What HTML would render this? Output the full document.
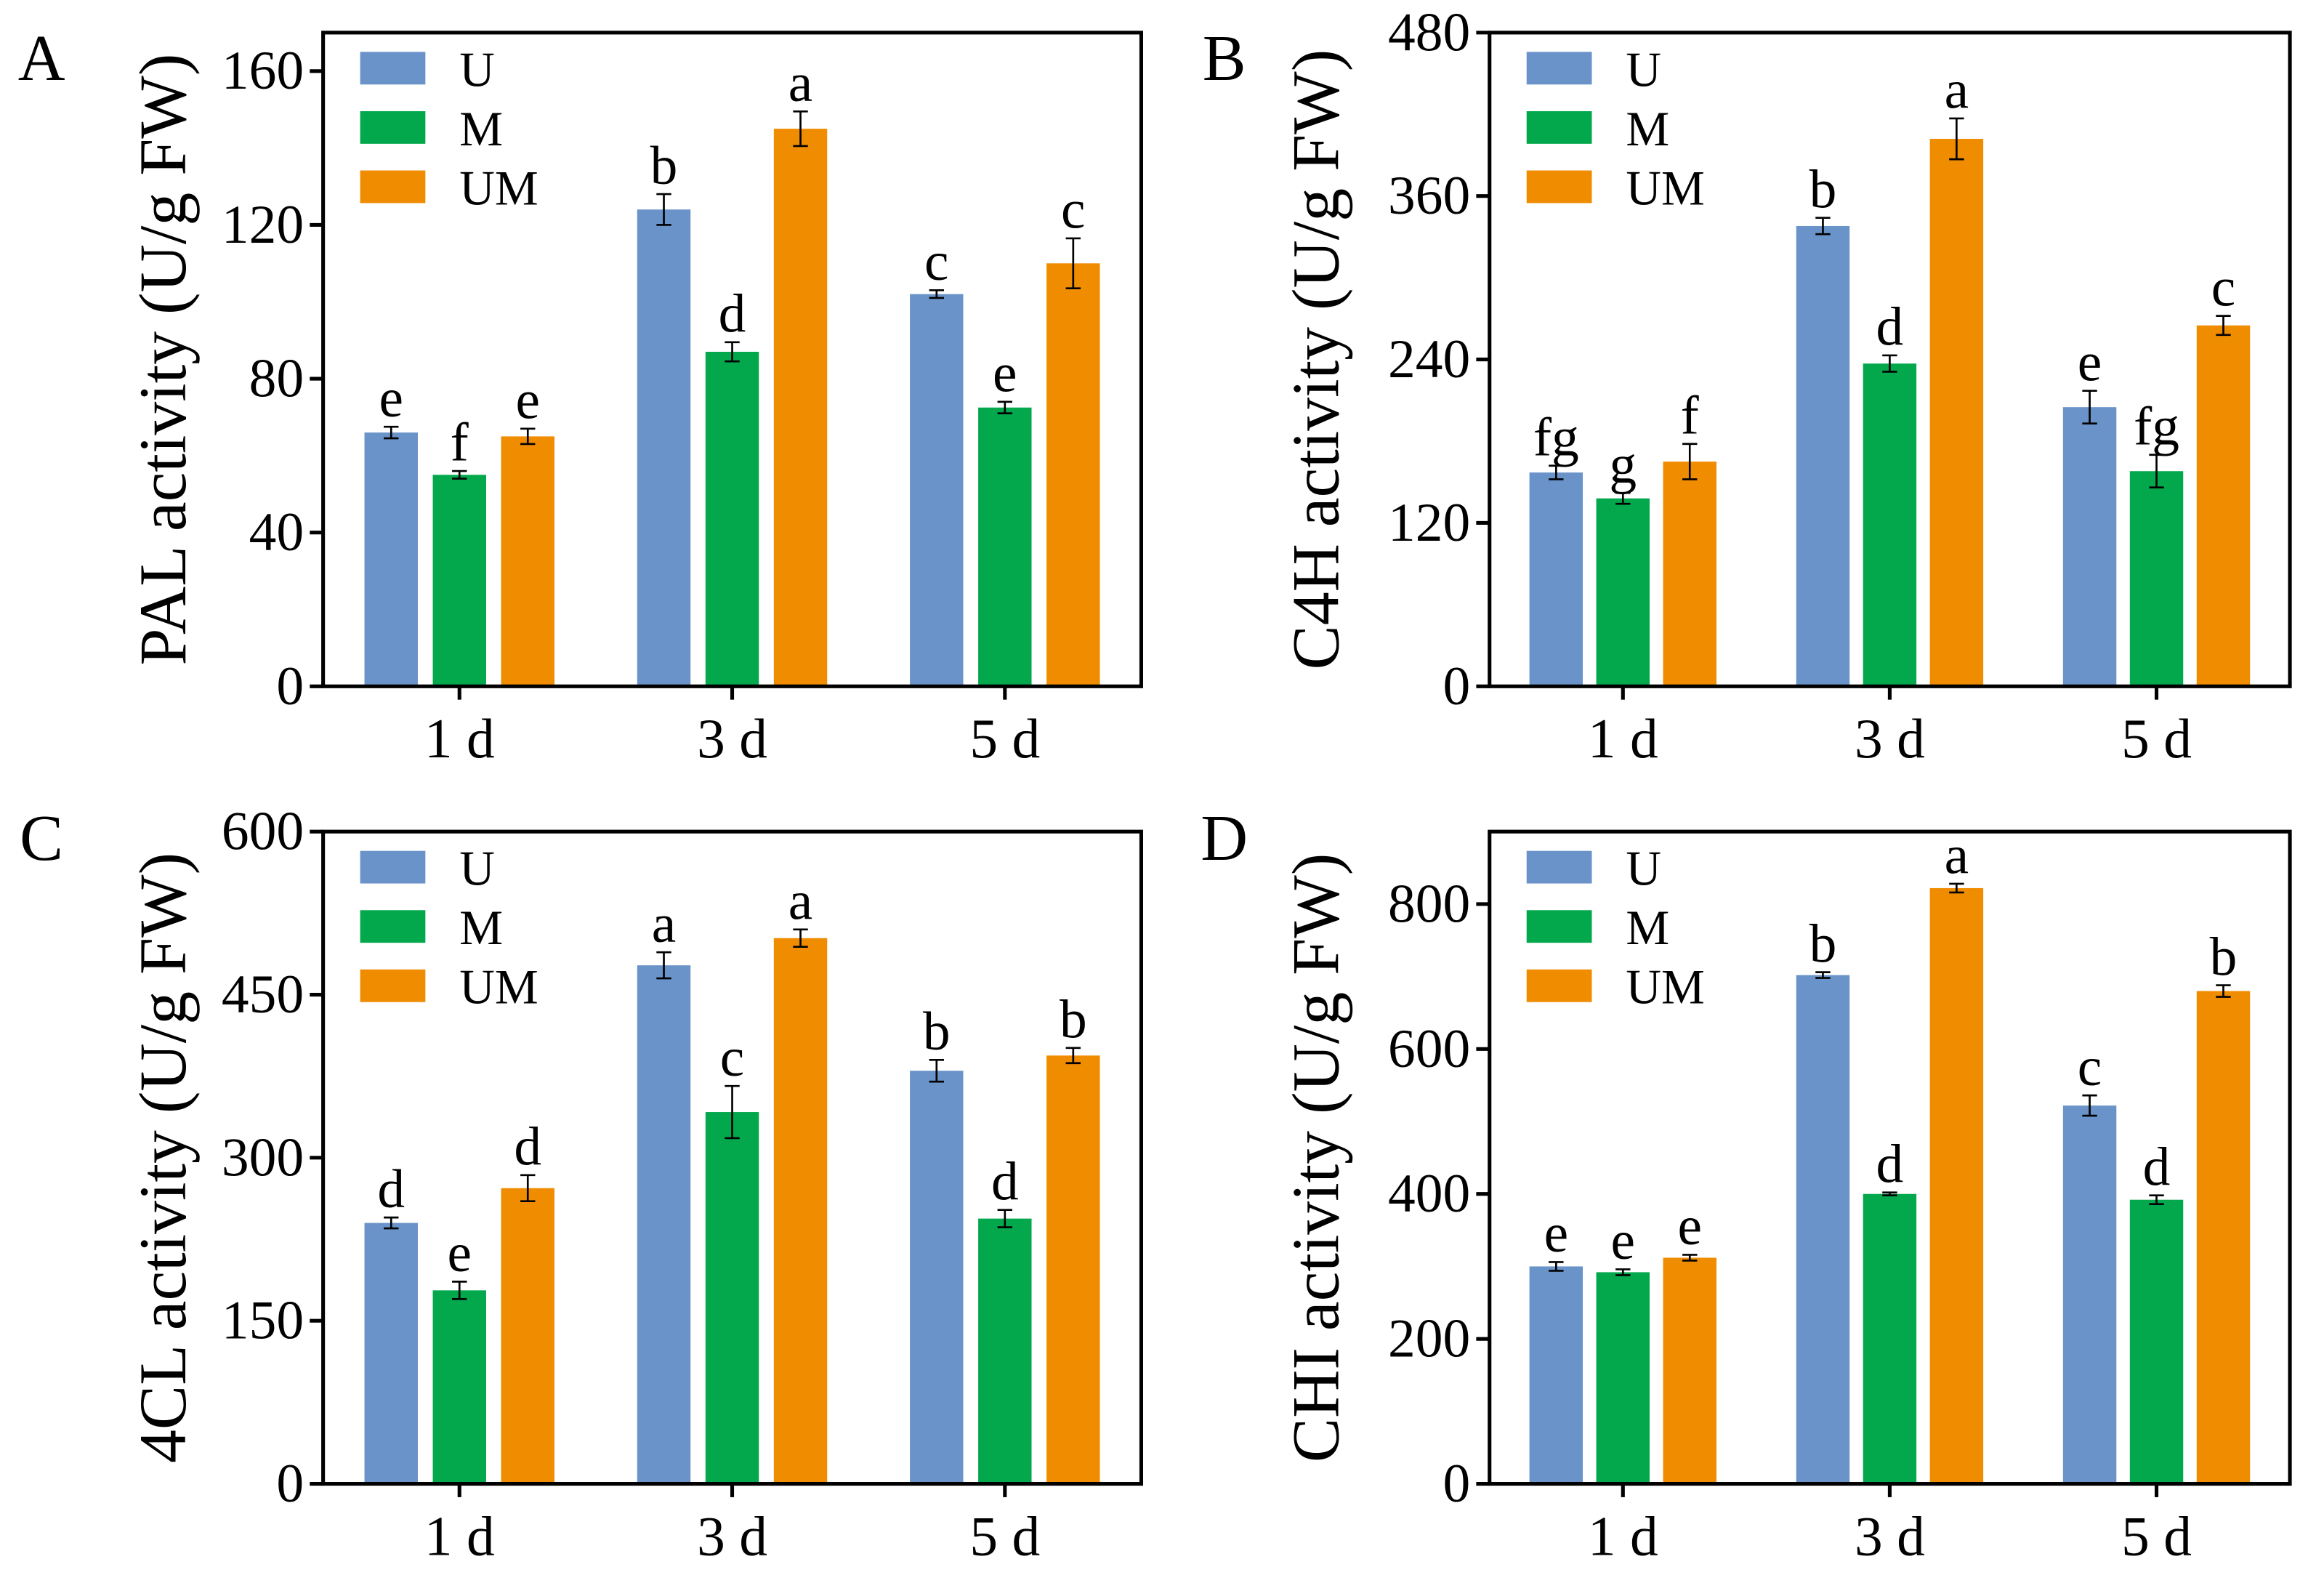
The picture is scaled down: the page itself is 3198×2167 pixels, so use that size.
<!DOCTYPE html>
<html><head><meta charset="utf-8"><style>
html,body{margin:0;padding:0;background:#fff;}
svg{display:block;font-family:"Liberation Serif",serif;}
</style></head><body>
<svg id="fig" width="3198" height="2167" viewBox="0 0 1568 1062.5" preserveAspectRatio="none" xmlns="http://www.w3.org/2000/svg"></svg>
<script>
const categories = ["1 d","3 d","5 d"];
const seriesNames = ["U","M","UM"];
const colors = ["#6a93c9","#03a84c","#f08c00"];

const aVals = [[66,124,102],[55,87,72.5],[65,145,110]];
const aErr = [[1.5,4,1],[1,2.5,1.5],[2,4.5,6.5]];
const aLet = [["e","b","c"],["f","d","e"],["e","a","c"]];
const aTicks = [0,40,80,120,160];

const bVals = [[157,338,205],[138,237,158],[165,402,265]];
const bErr = [[5,6,12],[4,6,12],[13,15,7]];
const bLet = [["fg","b","e"],["g","d","fg"],["f","a","c"]];
const bTicks = [0,120,240,360,480];

const cVals = [[240,477,380],[178,342,244],[272,502,394]];
const cErr = [[5,12,10],[8,24,8],[12,8,7]];
const cLet = [["d","a","b"],["e","c","d"],["d","a","b"]];
const cTicks = [0,150,300,450,600];

const dVals = [[300,702,522],[292,400,392],[312,822,680]];
const dErr = [[6,4,14],[4,2,6],[4,6,8]];
const dLet = [["e","b","c"],["e","d","d"],["e","a","b"]];
const dTicks = [0,200,400,600,800];

const panels = [
 {label:"A",title:"PAL activity (U/g FW)",vals:aVals,err:aErr,lets:aLet,ticks:aTicks,ymax:170,x0:218,x1:770,y0:463,y1:22,lx:28,ly:54,tx:110},
 {label:"B",title:"C4H activity (U/g FW)",vals:bVals,err:bErr,lets:bLet,ticks:bTicks,ymax:480,x0:1005,x1:1545,y0:463,y1:22,lx:826,ly:54,tx:888},
 {label:"C",title:"4CL activity (U/g FW)",vals:cVals,err:cErr,lets:cLet,ticks:cTicks,ymax:600,x0:218,x1:770,y0:1001,y1:561,lx:28,ly:580,tx:110},
 {label:"D",title:"CHI activity (U/g FW)",vals:dVals,err:dErr,lets:dLet,ticks:dTicks,ymax:900,x0:1005,x1:1545,y0:1001,y1:561,lx:826,ly:580,tx:888}
];
const NS="http://www.w3.org/2000/svg";
const svg=document.getElementById('fig');
function mk(tag,attrs,parent,text){const e=document.createElementNS(NS,tag);for(const k in attrs)e.setAttribute(k,attrs[k]);if(text!==undefined)e.textContent=text;parent.appendChild(e);return e;}

panels.forEach((p,pi)=>{
  const g=mk('g',{},svg);
  
  
  const W=p.x1-p.x0;
  const y=v=>p.y0-(v/p.ymax)*(p.y0-p.y1);
  const groupW=W/3;
  const xc=i=>p.x0+groupW*(i+0.5);
  const barW=36, step=W*0.0835;
  const pl=mk('text',{x:p.lx,y:p.ly,'font-size':44,'text-anchor':'middle'},g,p.label);
  
  
  p.vals.forEach((ser,si)=>{
    ser.forEach((v,ci)=>{
      const cx=xc(ci)+(si-1)*step;
      const r=mk('rect',{x:cx-barW/2,y:y(v),width:barW,height:p.y0-y(v),fill:colors[si]},g);
      
      
      const e=p.err[si][ci];
      const eg=mk('path',{d:`M${cx} ${y(v+e)}V${y(v-e)}M${cx-5} ${y(v+e)}H${cx+5}M${cx-5} ${y(v-e)}H${cx+5}`,stroke:'#000','stroke-width':1.3,fill:'none'},g);
      
      
      const t=mk('text',{x:cx,y:y(v+e)-7,'font-size':37,'text-anchor':'middle'},g,p.lets[si][ci]);
      
      
    });
  });
  const box=mk('rect',{x:p.x0,y:p.y1,width:W,height:p.y0-p.y1,fill:'none',stroke:'#000','stroke-width':2.5},g);
  
  
  p.ticks.forEach(t=>{
    mk('line',{x1:p.x0-9,x2:p.x0,y1:y(t),y2:y(t),stroke:'#000','stroke-width':2.5},g);
    const tl=mk('text',{x:p.x0-13,y:y(t)+12,'font-size':37,'text-anchor':'end'},g,t);
    
    
  });
  categories.forEach((c,ci)=>{
    mk('line',{x1:xc(ci),x2:xc(ci),y1:p.y0,y2:p.y0+9,stroke:'#000','stroke-width':2.5},g);
    const tl=mk('text',{x:xc(ci),y:p.y0+48,'font-size':38,'text-anchor':'middle'},g,c);
    
    
  });
  const cy=(p.y0+p.y1)/2;
  const yt=mk('text',{x:p.tx,y:cy,'font-size':45,'text-anchor':'middle',transform:`rotate(-90 ${p.tx} ${cy})`,dy:15},g,p.title);
  
  
  seriesNames.forEach((n,si)=>{
    const ly=p.y1+13+si*40;
    const lg=mk('g',{},g);
    
    
    mk('rect',{x:p.x0+25,y:ly,width:44,height:22,fill:colors[si]},lg);
    mk('text',{x:p.x0+92,y:ly+23,'font-size':33},lg,n);
  });
});
</script>
</body></html>
